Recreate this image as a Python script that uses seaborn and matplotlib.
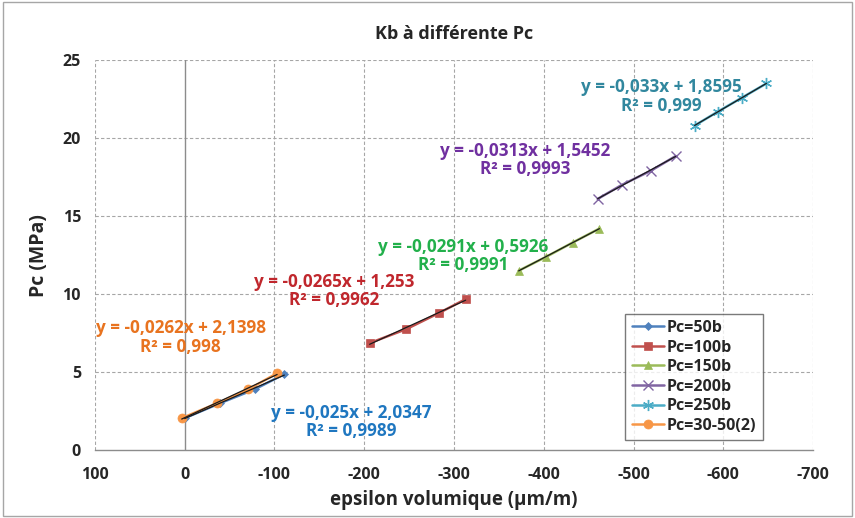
import numpy as np
import pandas as pd
import matplotlib
matplotlib.use("Agg")
import matplotlib.pyplot as plt
import matplotlib.patches as patches
import seaborn as sns

# ---- data ----
series_names = ["Pc=50b", "Pc=100b", "Pc=150b", "Pc=200b", "Pc=250b", "Pc=30-50(2)"]
x_50 = [0, -39, -78, -111]
y_50 = [2.05, 3.0, 3.9, 4.87]
x_100 = [-206, -247, -283, -313]
y_100 = [6.86, 7.76, 8.78, 9.68]
x_150 = [-372, -403, -432, -462]
y_150 = [11.5, 12.4, 13.3, 14.2]
x_200 = [-460, -487, -519, -547]
y_200 = [16.1, 17.0, 17.9, 18.85]
x_250 = [-568, -594, -621, -648]
y_250 = [20.8, 21.7, 22.6, 23.5]
x_3050 = [3.3, -36, -71, -103]
y_3050 = [2.05, 3.0, 3.9, 4.93]

equations = ["y = -0,025x + 2,0347\nR² = 0,9989",
             "y = -0,0265x + 1,253\nR² = 0,9962",
             "y = -0,0291x + 0,5926\nR² = 0,9991",
             "y = -0,0313x + 1,5452\nR² = 0,9993",
             "y = -0,033x + 1,8595\nR² = 0,999",
             "y = -0,0262x + 2,1398\nR² = 0,998"]
eq_pos = [(-186, 1.8), (-166, 10.2), (-310, 12.45), (-379, 18.6), (-531, 22.65), (4.5, 7.2)]

xs = [x_50, x_100, x_150, x_200, x_250, x_3050]
ys = [y_50, y_100, y_150, y_200, y_250, y_3050]

line_colors = ["#4F81BD", "#C0504D", "#9BBB59", "#8064A2", "#4BACC6", "#F79646"]
text_colors = ["#1F77C0", "#C0272D", "#22B04B", "#7030A0", "#31879E", "#E8731F"]
markers = ["D", "s", "^", "x", (6, 2, 0), "o"]
msizes = [4.5, 6, 6, 7, 8, 6.5]

FAM = ['Open Sans', 'DejaVu Sans']
sns.set_style("white")
plt.rcParams['font.family'] = FAM
plt.rcParams['axes.unicode_minus'] = False

fig = plt.figure(figsize=(8.55, 5.18), dpi=100)
ax = fig.add_axes([0.111, 0.131, 0.840, 0.753])

# grid
for gx in range(100, -701, -100):
    if gx != 0:
        ax.axvline(gx, color="#A6A6A6", lw=0.8, ls=(0, (3, 2)), zorder=0)
for gy in range(5, 26, 5):
    ax.axhline(gy, color="#A6A6A6", lw=0.8, ls=(0, (3, 2)), zorder=0)
ax.axvline(0, color="#8C8C8C", lw=1.0, zorder=1)

for i, name in enumerate(series_names):
    df = pd.DataFrame({"x": xs[i], "y": ys[i]})
    sns.lineplot(data=df, x="x", y="y", ax=ax, color=line_colors[i], lw=1.8,
                 marker=markers[i], markersize=msizes[i], markeredgecolor=line_colors[i],
                 markeredgewidth=1.0 if markers[i] in ("x",) or isinstance(markers[i], tuple) else 0.5,
                 sort=False, label=name, zorder=3)
    sns.regplot(data=df, x="x", y="y", ax=ax, scatter=False, ci=None, truncate=True,
                line_kws=dict(color="#1a1a1a", lw=0.9, zorder=4))
    ax.text(eq_pos[i][0], eq_pos[i][1], equations[i], color=text_colors[i],
            fontsize=12.3, fontweight="bold", ha="center", va="center",
            linespacing=1.05, zorder=5)

ax.set_xlim(100, -700)
ax.set_ylim(0, 25)
ax.set_xticks(range(100, -701, -100))
ax.set_yticks(range(0, 26, 5))
ax.tick_params(axis="both", labelsize=11.5, length=0)
ax.tick_params(axis="x", length=4, color="#8C8C8C", direction="out", pad=8)
for lab in ax.get_xticklabels() + ax.get_yticklabels():
    lab.set_fontweight("bold")
    lab.set_color("#262626")
ax.tick_params(axis="y", pad=10)

for s in ["top", "right", "left"]:
    ax.spines[s].set_visible(False)
ax.spines["bottom"].set_color("#8C8C8C")
ax.spines["bottom"].set_linewidth(1.0)

ax.set_xlabel("epsilon volumique (µm/m)", fontsize=13.5, fontweight="bold", color="#262626", labelpad=5)
ax.set_ylabel("Pc (MPa)", fontsize=14, fontweight="bold", color="#262626", labelpad=10)
ax.set_title("Kb à différente Pc", fontsize=13, fontweight="bold", color="#262626", pad=15)

leg = ax.legend(loc="lower right", bbox_to_anchor=(0.93, 0.026), fontsize=11.5,
                frameon=True, fancybox=False, handlelength=2.0, handletextpad=0.2,
                borderpad=0.4, labelspacing=0.22, borderaxespad=0)
leg.get_frame().set_edgecolor("#595959")
leg.get_frame().set_linewidth(1.0)
for t in leg.get_texts():
    t.set_fontweight("bold")
    t.set_color("#262626")

fig.patches.append(patches.Rectangle((0.003, 0.004), 0.994, 0.992, transform=fig.transFigure,
                                     fill=False, edgecolor="#A6A6A6", lw=1.0))

fig.savefig("out.png", dpi=100)
